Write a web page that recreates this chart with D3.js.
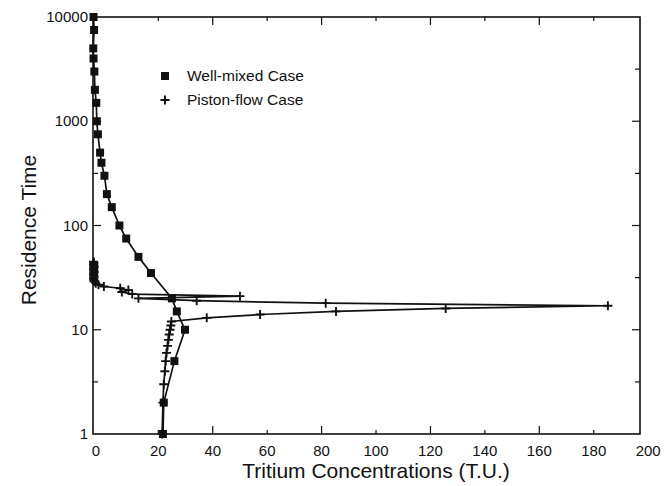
<!DOCTYPE html>
<html>
<head>
<meta charset="utf-8">
<script src="https://cdn.jsdelivr.net/npm/d3@7"></script>
<style>
  body { margin: 0; background: #fff; }
  text { font-family: "Liberation Sans", Arial, sans-serif; fill: #111; }
</style>
</head>
<body>
<div id="chart"></div>
<script>
// residence time (years) and tritium (T.U.) for the well-mixed reservoir
const wellMixedTime = [10000, 7500, 5000, 4000, 3000, 2000, 1500, 1000, 750, 500, 400, 300,
  200, 150, 100, 75, 50, 35, 20, 15, 10, 5, 2, 1];
const wellMixedTU = [-3.8, -3.6, -3.9, -3.8, -3.5, -3.3, -2.8, -2.6, -2.2, -1.4, -0.9, 0.2,
  1.1, 2.9, 5.7, 8.2, 12.7, 17.3, 25.0, 26.8, 29.8, 25.9, 22.0, 21.7];

// piston-flow: one point per year of residence
const pistonTime = [1, 2, 3, 4, 5, 6, 7, 8, 9, 10, 11, 12, 13, 14, 15, 16, 17, 18, 19, 20,
  21, 22, 23, 24, 25, 26, 27, 28, 29, 30, 31, 32, 33, 34, 35, 36, 37, 38, 39, 40,
  41, 42, 43, 44, 45];
const pistonTU = [21.4, 21.7, 22.0, 22.4, 22.7, 23.0, 23.4, 23.7, 24.0, 24.3, 24.6, 24.8,
  37.8, 57.4, 85.3, 125.6, 185.2, 81.5, 34.1, 12.7,
  50.0, 10.4, 6.6, 9.0, 6.0, 0.0, -2.0, -3.0, -3.6, -3.7, -3.8, -3.6, -3.7, -3.8, -3.7, -3.6,
  -3.7, -3.8, -3.7, -3.6, -3.7, -3.8, -3.7, -3.7, -3.8];

const xTicks = [0, 20, 40, 60, 80, 100, 120, 140, 160, 180, 200];
const yTicks = [1, 10, 100, 1000, 10000];

const width = 665;
const height = 486;
const plotLeft = 93, plotRight = 640, plotTop = 17, plotBottom = 434;

const svg = d3.select('#chart').append('svg')
  .attr('width', width)
  .attr('height', height);

const x = d3.scaleLinear().domain([-4, 197]).range([plotLeft, plotRight]);
const y = d3.scaleLog().domain([1, 10000]).range([plotBottom, plotTop]);

// frame
svg.append('rect')
  .attr('x', plotLeft)
  .attr('y', plotTop)
  .attr('width', plotRight - plotLeft)
  .attr('height', plotBottom - plotTop)
  .attr('fill', 'none')
  .attr('stroke', '#111')
  .attr('stroke-width', 1.6);

// inward ticks on all four sides, long on every other one
const xMarks = xTicks.slice(1, -1);
const tickLen = (i) => (i % 2 === 1 ? 8 : 4);

svg.append('g').selectAll('line')
  .data(xMarks)
  .enter()
  .append('line')
  .attr('x1', (d) => x(d)).attr('x2', (d) => x(d))
  .attr('y1', plotBottom).attr('y2', (d, i) => plotBottom - tickLen(i))
  .attr('stroke', '#111').attr('stroke-width', 1.2);

svg.append('g').selectAll('line')
  .data(xMarks)
  .enter()
  .append('line')
  .attr('x1', (d) => x(d)).attr('x2', (d) => x(d))
  .attr('y1', plotTop).attr('y2', (d, i) => plotTop + tickLen(i))
  .attr('stroke', '#111').attr('stroke-width', 1.2);

const yMarks = [];
yTicks.forEach((t, i) => {
  if (i > 0 && i < yTicks.length - 1) yMarks.push({v: t, len: 8});
  if (i < yTicks.length - 1) yMarks.push({v: t * Math.sqrt(10), len: 5});
});

svg.append('g').selectAll('line')
  .data(yMarks)
  .enter()
  .append('line')
  .attr('x1', plotLeft).attr('x2', (d) => plotLeft + d.len)
  .attr('y1', (d) => y(d.v)).attr('y2', (d) => y(d.v))
  .attr('stroke', '#111').attr('stroke-width', 1.2);

svg.append('g').selectAll('line')
  .data(yMarks)
  .enter()
  .append('line')
  .attr('x1', plotRight).attr('x2', (d) => plotRight - d.len)
  .attr('y1', (d) => y(d.v)).attr('y2', (d) => y(d.v))
  .attr('stroke', '#111').attr('stroke-width', 1.2);

// tick labels
svg.append('g').selectAll('text')
  .data(xTicks)
  .enter()
  .append('text')
  .attr('x', (d) => (d === 0 ? plotLeft + 3 : x(d)))
  .attr('y', plotBottom + 22)
  .attr('text-anchor', 'middle')
  .attr('font-size', 15)
  .text((d) => d);

svg.append('g').selectAll('text')
  .data(yTicks)
  .enter()
  .append('text')
  .attr('x', plotLeft - 5)
  .attr('y', (d) => y(d) + 5)
  .attr('text-anchor', 'end')
  .attr('font-size', 15)
  .text((d) => d);

// axis titles
svg.append('text')
  .attr('x', 376)
  .attr('y', 478)
  .attr('text-anchor', 'middle')
  .attr('font-size', 21)
  .text('Tritium Concentrations (T.U.)');

svg.append('text')
  .attr('transform', 'translate(36,230) rotate(-90)')
  .attr('text-anchor', 'middle')
  .attr('font-size', 21)
  .text('Residence Time');

// series
const wellMixed = wellMixedTime.map((t, i) => ({t: t, c: wellMixedTU[i]}));
const piston = pistonTime.map((t, i) => ({t: t, c: pistonTU[i]}));

const line = d3.line()
  .x((d) => x(d.c))
  .y((d) => y(d.t));

svg.append('path')
  .datum(wellMixed)
  .attr('d', line)
  .attr('fill', 'none')
  .attr('stroke', '#111')
  .attr('stroke-width', 1.7);

svg.append('path')
  .datum(piston)
  .attr('d', line)
  .attr('fill', 'none')
  .attr('stroke', '#111')
  .attr('stroke-width', 1.7);

const square = d3.symbol().type(d3.symbolSquare).size(64);
const plus = 'M-4.5,0H4.5M0,-4.5V4.5';

svg.append('g').selectAll('path')
  .data(wellMixed)
  .enter()
  .append('path')
  .attr('transform', (d) => `translate(${x(d.c)},${y(d.t)})`)
  .attr('d', square)
  .attr('fill', '#111');

svg.append('g').selectAll('path')
  .data(piston)
  .enter()
  .append('path')
  .attr('transform', (d) => `translate(${x(d.c)},${y(d.t)})`)
  .attr('d', plus)
  .attr('stroke', '#111')
  .attr('stroke-width', 1.9);

// legend
const legend = svg.append('g').attr('transform', 'translate(165,76)');
legend.append('path').attr('d', square).attr('fill', '#111');
legend.append('path').attr('transform', 'translate(0,24)').attr('d', plus)
  .attr('stroke', '#111').attr('stroke-width', 1.9);
legend.append('text').attr('x', 22).attr('y', 5).attr('font-size', 15.5).text('Well-mixed Case');
legend.append('text').attr('x', 22).attr('y', 29).attr('font-size', 15.5).text('Piston-flow Case');
</script>
</body>
</html>
